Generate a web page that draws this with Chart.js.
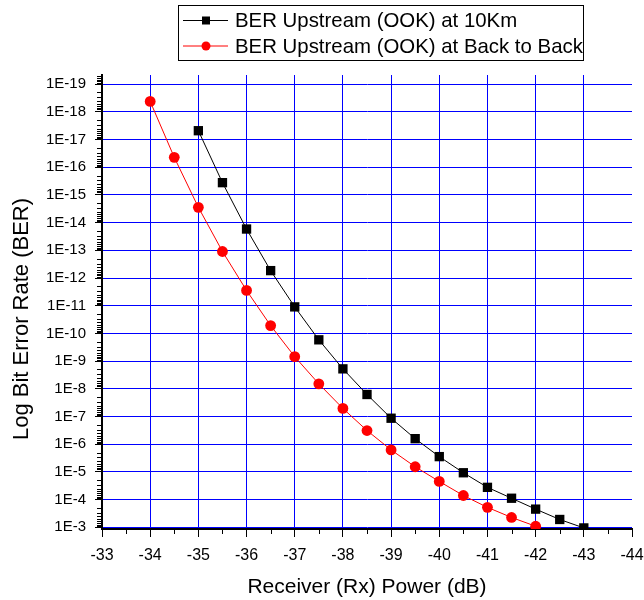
<!DOCTYPE html>
<html>
<head>
<meta charset="utf-8">
<title>BER Upstream (OOK)</title>
<script src="https://cdn.jsdelivr.net/npm/chart.js@4/dist/chart.umd.min.js"></script>
<style>
    html, body { margin: 0; padding: 0; background: #ffffff; }
    #berChart { display: block; }
</style>
</head>
<body>
<canvas id="berChart" width="644" height="600"></canvas>
<script>
/* ===========================
   BER vs RECEIVED POWER
   =========================== */

// 10 Km fibre run
const rxPower10km = [-35, -35.5, -36, -36.5, -37, -37.5, -38, -38.5, -39, -39.5, -40, -40.5, -41, -41.5, -42, -42.5, -43];
const ber10km = [4.8e-18, 3.6e-16, 1.7e-14, 5.4e-13, 1.1e-11, 1.7e-10, 1.9e-9, 1.6e-8, 1.15e-7, 6.3e-7, 2.8e-6, 1.07e-5, 3.6e-5, 8.9e-5, 2.2e-4, 5.2e-4, 1.05e-3];

// back to back (no fibre)
const rxPowerB2B = [-34, -34.5, -35, -35.5, -36, -36.5, -37, -37.5, -38, -38.5, -39, -39.5, -40, -40.5, -41, -41.5, -42];
const berB2B = [4.2e-19, 4.4e-17, 2.8e-15, 1.1e-13, 2.8e-12, 5.2e-11, 6.9e-10, 6.6e-9, 5.1e-8, 3.2e-7, 1.6e-6, 6.5e-6, 2.2e-5, 7.1e-5, 1.9e-4, 4.4e-4, 9.1e-4];

const seriesLabels = ['BER Upstream (OOK) at 10Km', 'BER Upstream (OOK) at Back to Back'];
const yTitle = 'Log Bit Error Rate (BER)';

// y axis decades, top to bottom
const berDecades = [1e-19, 1e-18, 1e-17, 1e-16, 1e-15, 1e-14, 1e-13, 1e-12, 1e-11, 1e-10, 1e-9, 1e-8, 1e-7, 1e-6, 1e-5, 1e-4, 1e-3];

const FONT = "'Liberation Sans', Arial, sans-serif";
Chart.defaults.font.family = FONT;
Chart.defaults.color = '#000000';

function toPoints(xs, ys) {
    return xs.map((x, i) => ({ x: x, y: ys[i] }));
}

// small log / half-step ticks on the outside of both axes
const minorTicks = {
    id: 'minorTicks',
    afterDraw(chart) {
        const ctx = chart.ctx;
        const xs = chart.scales.x;
        const ys = chart.scales.y;
        const area = chart.chartArea;
        ctx.save();
        ctx.strokeStyle = '#000000';
        ctx.lineWidth = 1;
        ctx.beginPath();
        for (let e = -20; e <= -3; e++) {
            for (let k = 2; k <= 9; k++) {
                const v = k * Math.pow(10, e);
                if (v < ys.min || v > ys.max) continue;
                const py = Math.round(ys.getPixelForValue(v)) + 0.5;
                ctx.moveTo(area.left - 5, py);
                ctx.lineTo(area.left, py);
            }
        }
        for (let v = -33.5; v > -44; v -= 1) {
            const px = Math.round(xs.getPixelForValue(v)) + 0.5;
            ctx.moveTo(px, area.bottom);
            ctx.lineTo(px, area.bottom + 5);
        }
        ctx.stroke();
        ctx.restore();
    }
};

// rotated y title, sitting a little below the middle of the axis
const yAxisTitle = {
    id: 'yAxisTitle',
    afterDraw(chart) {
        const ctx = chart.ctx;
        ctx.save();
        ctx.translate(22, 319);
        ctx.rotate(-Math.PI / 2);
        ctx.font = '22px ' + FONT;
        ctx.fillStyle = '#000000';
        ctx.textAlign = 'center';
        ctx.textBaseline = 'middle';
        ctx.fillText(yTitle, 0, 0);
        ctx.restore();
    }
};

// boxed legend with line + marker samples
const legendBox = {
    id: 'legendBox',
    afterDraw(chart) {
        const ctx = chart.ctx;
        const rows = [
            { text: seriesLabels[0], color: '#000000', shape: 'rect', y: 20.5 },
            { text: seriesLabels[1], color: '#ff0000', shape: 'circle', y: 46 }
        ];
        ctx.save();
        ctx.strokeStyle = '#000000';
        ctx.lineWidth = 1;
        ctx.strokeRect(178.5, 5.5, 405, 55);
        ctx.font = '20.4px ' + FONT;
        ctx.textBaseline = 'middle';
        ctx.textAlign = 'left';
        rows.forEach(r => {
            ctx.strokeStyle = r.color;
            ctx.fillStyle = r.color;
            ctx.beginPath();
            ctx.moveTo(183, r.y);
            ctx.lineTo(228, r.y);
            ctx.stroke();
            if (r.shape === 'rect') {
                ctx.fillRect(202, r.y - 4, 8, 8);
            } else {
                ctx.beginPath();
                ctx.arc(206, r.y, 4.5, 0, Math.PI * 2);
                ctx.fill();
            }
            ctx.fillStyle = '#000000';
            ctx.fillText(r.text, 235, r.y + 1);
        });
        ctx.restore();
    }
};

const berChart = new Chart(document.getElementById('berChart'), {
    type: 'line',
    data: {
        datasets: [{
            label: seriesLabels[0],
            data: toPoints(rxPower10km, ber10km),
            borderColor: '#000000',
            backgroundColor: '#000000',
            borderWidth: 1,
            pointStyle: 'rect',
            pointRadius: 6.6,
            pointBorderWidth: 0,
            pointBackgroundColor: '#000000',
            tension: 0,
            clip: 0
        }, {
            label: seriesLabels[1],
            data: toPoints(rxPowerB2B, berB2B),
            borderColor: '#ff0000',
            backgroundColor: '#ff0000',
            borderWidth: 1,
            pointStyle: 'circle',
            pointRadius: 5.4,
            pointBorderWidth: 0,
            pointBackgroundColor: '#ff0000',
            tension: 0,
            clip: 0
        }]
    },
    options: {
        responsive: false,
        animation: false,
        layout: { padding: { top: 75, right: 12, left: 0, bottom: 0 } },
        plugins: {
            legend: { display: false },
            tooltip: { enabled: false }
        },
        scales: {
            x: {
                type: 'linear',
                min: -44,
                max: -33,
                reverse: true,
                afterFit: scale => {
                    scale.height = 71;
                    scale.paddingLeft = 0;
                    scale.paddingRight = 0;
                },
                border: { color: '#000000', width: 2 },
                grid: {
                    color: c => (c.tick && c.tick.value === -44) ? 'rgba(0,0,0,0)' : '#0000ff',
                    lineWidth: 1,
                    tickColor: '#000000',
                    tickLength: 8
                },
                ticks: {
                    stepSize: 1,
                    padding: 9,
                    font: { size: 16 },
                    color: '#000000'
                },
                title: {
                    display: true,
                    text: 'Receiver (Rx) Power (dB)',
                    font: { size: 21 },
                    padding: { top: 0, bottom: 0 }
                }
            },
            y: {
                type: 'logarithmic',
                min: Math.pow(10, -19.33),
                max: Math.pow(10, -2.94),
                reverse: true,
                afterFit: scale => {
                    scale.width = 102;
                    scale.paddingTop = 0;
                    scale.paddingBottom = 0;
                },
                afterBuildTicks: scale => {
                    scale.ticks = berDecades.map(v => ({ value: v }));
                },
                border: { color: '#000000', width: 2 },
                grid: {
                    color: '#0000ff',
                    lineWidth: 1,
                    tickColor: '#000000',
                    tickLength: 7
                },
                ticks: {
                    autoSkip: false,
                    padding: 9,
                    font: { size: 15 },
                    color: '#000000',
                    callback: v => '1E' + Math.round(Math.log10(v))
                },
                title: { display: false }
            }
        }
    },
    plugins: [minorTicks, yAxisTitle, legendBox]
});
</script>
</body>
</html>
